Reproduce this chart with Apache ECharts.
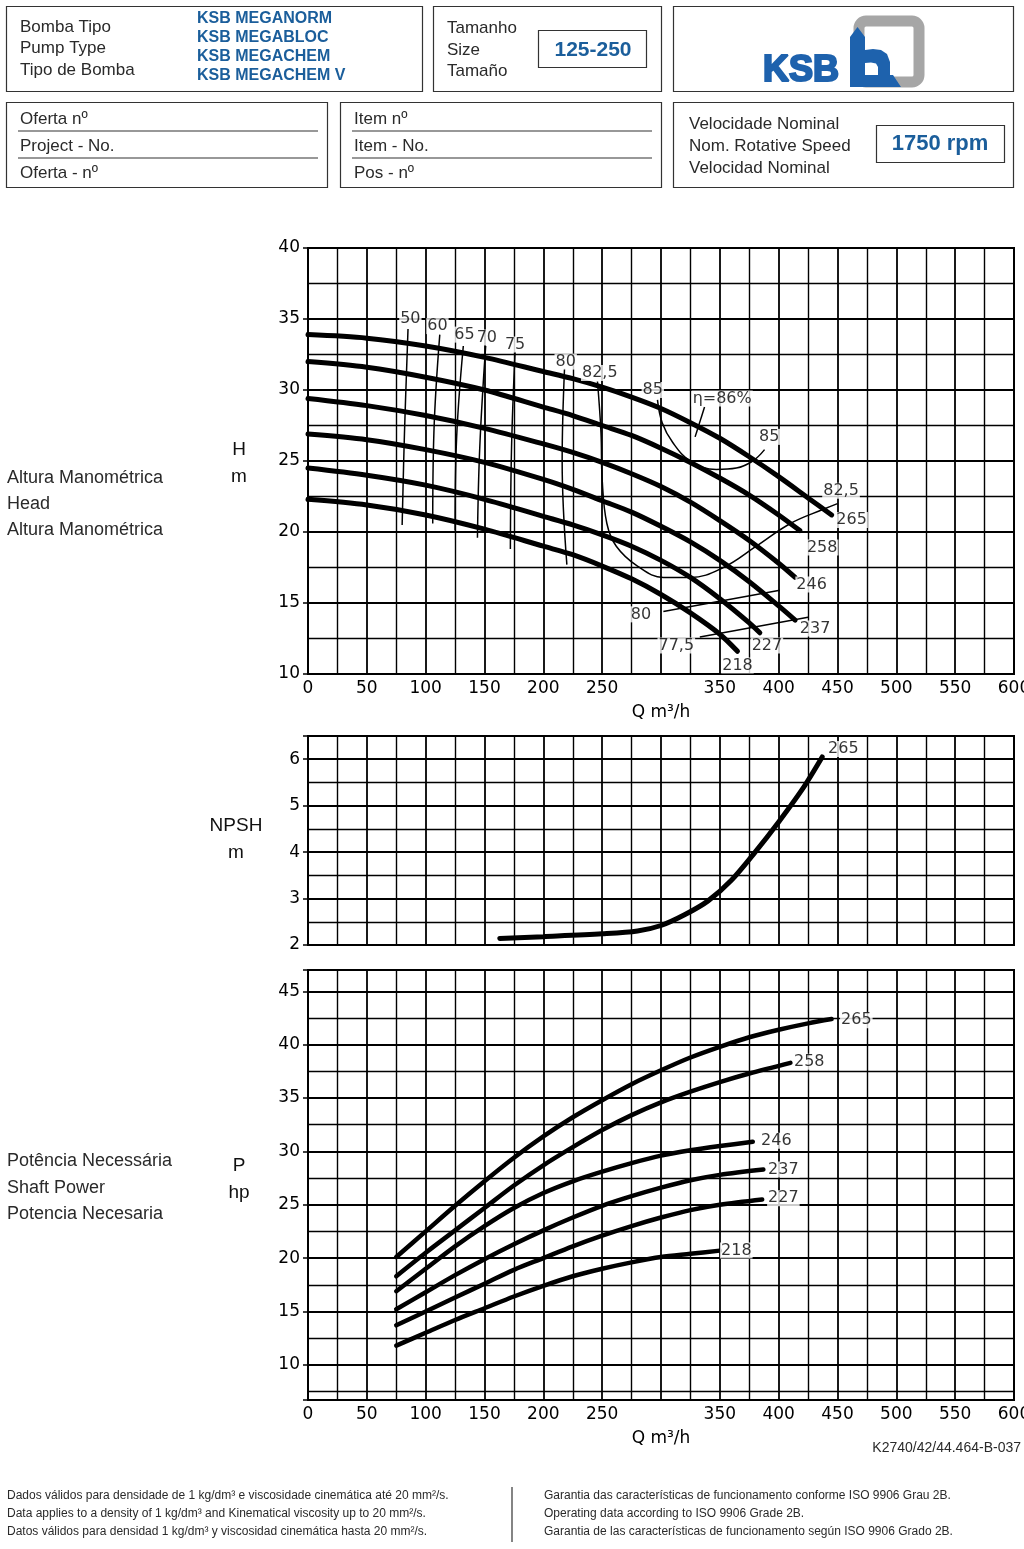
<!DOCTYPE html>
<html><head><meta charset="utf-8">
<script src="https://cdn.jsdelivr.net/npm/echarts@6/dist/echarts.min.js"></script>
<style>html,body{margin:0;padding:0;background:#fff}#c{width:1024px;height:1549px}</style>
</head><body><div id="c"></div>
<script>
// ---------- DATA ----------
const qLabelsHidden = [300];
const diameters = ['265', '258', '246', '237', '227', '218'];
// Head H [m] vs Q [m3/h]
const head265 = [[0,33.9],[50,33.65],[100,33.1],[150,32.3],[200,31.3],[225,30.8],[250,30.2],[275,29.5],[300,28.7],[325,27.7],[350,26.6],[375,25.3],[400,23.9],[425,22.4],[445,21.2]];
const head258 = [[0,32.0],[50,31.6],[100,30.9],[150,30.0],[200,28.8],[225,28.2],[250,27.5],[275,26.8],[300,25.9],[325,24.9],[350,23.8],[375,22.6],[400,21.2],[418,20.1]];
const head246 = [[0,29.4],[50,28.9],[100,28.2],[150,27.3],[200,26.2],[225,25.6],[250,24.9],[275,24.1],[300,23.2],[325,22.1],[350,20.8],[375,19.4],[400,17.8],[414,16.8]];
const head237 = [[0,26.9],[50,26.5],[100,25.8],[150,24.9],[200,23.7],[225,23.0],[250,22.2],[275,21.4],[300,20.4],[325,19.3],[350,18.0],[375,16.5],[400,14.8],[414,13.8]];
const head227 = [[0,24.5],[50,24.0],[100,23.3],[150,22.3],[200,21.1],[225,20.5],[250,19.8],[275,19.0],[300,18.0],[325,16.8],[350,15.3],[375,13.6],[384,12.9]];
const head218 = [[0,22.3],[50,21.9],[100,21.2],[150,20.2],[200,19.0],[225,18.4],[250,17.6],[275,16.7],[300,15.6],[325,14.3],[350,12.8],[365,11.6]];
const headCurves = [head265, head258, head246, head237, head227, head218];
const headLabelPos = [[462,20.85],[437,18.9],[428,16.3],[431,13.2],[390,12.0],[365,10.6]];
// Iso-efficiency lines
const eff50 = [[85,34.3],[82,27],[80,20.5]];
const eff60 = [[112,33.9],[107,27],[106,20.6]];
const eff65 = [[132,33.1],[126,26],[125,20.1]];
const eff70 = [[151,33.1],[146,26],[144,19.6]];
const eff75 = [[176,32.7],[173,26],[172,18.8]];
const eff80a = [[218,31.5],[216,25],[220,17.7]];
const eff825 = [[246,30.6],[249,27],[250,23.7],[254,20.6],[262,19.0],[280,17.6],[302,16.8],[325,16.8],[353,17.5],[381,19.0],[410,20.6],[438,21.6],[450,22.0]];
const eff85 = [[297,29.3],[301,27.7],[310,26.3],[325,25.0],[347,24.4],[364,24.5],[378,25.0],[388,25.8]];
const eff86 = [[337,28.8],[329,26.7]];
const eff80b = [[302,14.4],[401,15.9]];
const eff775 = [[333,12.6],[425,14.0]];
const effLines = [eff50, eff60, eff65, eff70, eff75, eff80a, eff825, eff85, eff86, eff80b, eff775];
const effLabels = [[87,35.0,'50'],[110,34.5,'60'],[133,33.9,'65'],[152,33.7,'70'],[176,33.2,'75'],[219,32.0,'80'],[248,31.2,'82,5'],[293,30.0,'85'],[352,29.4,'η=86%'],[392,26.7,'85'],[453,22.9,'82,5'],[283,14.2,'80'],[313,12.0,'77,5']];
// NPSH [m]
const npsh265 = [[163,2.14],[200,2.18],[250,2.24],[280,2.3],[300,2.42],[320,2.65],[340,2.95],[360,3.4],[380,4.0],[400,4.65],[420,5.35],[437,6.05]];
const npshLabel = [[455,6.22,'265']];
// Power P [hp]
const pow265 = [[75,20.1],[100,22.5],[125,24.9],[150,27.2],[175,29.4],[200,31.4],[225,33.2],[250,34.8],[275,36.3],[300,37.6],[325,38.8],[350,39.8],[375,40.7],[400,41.4],[425,42.0],[445,42.4]];
const pow258 = [[75,18.3],[100,20.5],[125,22.6],[150,24.7],[175,26.8],[200,28.7],[225,30.4],[250,32.0],[275,33.4],[300,34.6],[325,35.6],[350,36.5],[375,37.3],[410,38.3]];
const pow246 = [[75,16.9],[100,19.0],[125,21.1],[150,23.0],[175,24.7],[200,26.1],[225,27.2],[250,28.1],[275,28.9],[300,29.6],[325,30.1],[350,30.5],[378,30.9]];
const pow237 = [[75,15.2],[100,16.8],[125,18.4],[150,19.9],[175,21.3],[200,22.6],[225,23.8],[250,24.9],[275,25.8],[300,26.6],[325,27.3],[350,27.8],[387,28.3]];
const pow227 = [[75,13.7],[100,15.0],[125,16.3],[150,17.6],[175,18.9],[200,20.0],[225,21.1],[250,22.1],[275,23.0],[300,23.8],[325,24.5],[350,25.0],[386,25.5]];
const pow218 = [[75,11.8],[100,13.0],[125,14.2],[150,15.3],[175,16.4],[200,17.4],[225,18.3],[250,19.0],[275,19.6],[300,20.1],[325,20.4],[350,20.7]];
const powCurves = [pow265, pow258, pow246, pow237, pow227, pow218];
const powLabelPos = [[466,42.3],[426,38.4],[398,31.0],[404,28.3],[404,25.6],[364,20.7]];

// ---------- CHART ----------
const NUM = 'DejaVu Sans';
const TXT = '"Liberation Sans", Arial, sans-serif';
const BLUE = '#1b5e9b';
const chart = echarts.init(document.getElementById('c'), null, {renderer: 'canvas'});

function xAx(i) {
  return {
    type: 'value', gridIndex: i, min: 0, max: 600, interval: 50,
    splitLine: {show: true, lineStyle: {color: '#000', width: 1.8}},
    minorTick: {show: false, splitNumber: 2},
    minorSplitLine: {show: true, lineStyle: {color: '#000', width: 1.4}},
    axisLine: {show: true, lineStyle: {color: '#000', width: 2}},
    axisTick: {show: false},
    axisLabel: {show: i !== 1, color: '#000', fontFamily: NUM, fontSize: 17, margin: 6,
      formatter: v => qLabelsHidden.indexOf(v) >= 0 ? '' : String(v)},
    name: i !== 1 ? 'Q m³/h' : '', nameLocation: 'middle', nameGap: 30,
    nameTextStyle: {color: '#000', fontFamily: NUM, fontSize: 17}
  };
}
function yAx(i, extra) {
  return Object.assign({
    type: 'value', gridIndex: i,
    splitLine: {show: true, lineStyle: {color: '#000', width: 1.8}},
    minorTick: {show: false, splitNumber: 2},
    minorSplitLine: {show: true, lineStyle: {color: '#000', width: 1.4}},
    axisLine: {show: true, lineStyle: {color: '#000', width: 2}},
    axisTick: {show: true, length: 5, lineStyle: {color: '#000', width: 1.5}},
    axisLabel: {color: '#000', fontFamily: NUM, fontSize: 17, margin: 8}
  }, extra);
}
function labelSeries(xi, data, bg) {
  return {
    type: 'scatter', xAxisIndex: xi, yAxisIndex: xi, symbolSize: 1, z: 10,
    itemStyle: {color: 'rgba(0,0,0,0)'},
    data: data,
    label: {show: true, position: 'inside', formatter: p => p.data[2], color: '#000',
      fontFamily: NUM, fontSize: 16, backgroundColor: bg ? '#fff' : 'transparent', padding: [0, 1]},
    silent: true
  };
}
function curve(xi, d, w, z) {
  return {type: 'line', xAxisIndex: xi, yAxisIndex: xi, data: d, smooth: 0.3,
    symbol: 'none', z: z || 5, lineStyle: {color: '#000', width: w, cap: 'round'}, silent: true};
}
const series = [];
headCurves.forEach(d => series.push(curve(0, d, 5)));
effLines.forEach(d => series.push({type: 'line', xAxisIndex: 0, yAxisIndex: 0, data: d, smooth: 0.4, symbol: 'none', z: 4,
  lineStyle: {color: '#000', width: 1.5}, silent: true}));
series.push(labelSeries(0, effLabels, true));
series.push(labelSeries(0, headLabelPos.map((p, k) => [p[0], p[1], diameters[k]]), true));
series.push(curve(1, npsh265, 5));
series.push(labelSeries(1, npshLabel, true));
powCurves.forEach(d => series.push(curve(2, d, 4.5)));
series.push(labelSeries(2, powLabelPos.map((p, k) => [p[0], p[1], diameters[k]]), true));

// header / side graphics
function T(text, x, y, size, opt) {
  opt = opt || {};
  const st = {
    text: text, fill: opt.fill || '#2a2a2a',
    font: (opt.weight || 'normal') + ' ' + size + 'px ' + (opt.family || TXT),
    textAlign: opt.align || 'left', align: opt.align || 'left',
    textVerticalAlign: 'middle', verticalAlign: 'middle'};
  if (opt.stroke) { st.stroke = opt.stroke; st.lineWidth = opt.lw || 1.5; }
  return {type: 'text', x: x, y: y, silent: true, z: 100, style: st};
}
function R(x, y, w, h, lw) {
  return {type: 'rect', silent: true, z: 100, shape: {x: x, y: y, width: w, height: h},
    style: {fill: 'none', stroke: '#333', lineWidth: lw || 1.2}};
}
function L(x1, y1, x2, y2) {
  return {type: 'line', silent: true, z: 100, shape: {x1: x1, y1: y1, x2: x2, y2: y2},
    style: {stroke: '#333', lineWidth: 1.2}};
}
const LOGO = '#1e62ad';
const g = [
  R(6.5, 6.5, 416, 85), R(433.5, 6.5, 228, 85), R(673.5, 6.5, 340, 85),
  R(6.5, 102.5, 321, 85), R(340.5, 102.5, 321, 85), R(673.5, 102.5, 340, 85),
  T('Bomba Tipo', 20, 27, 17), T('Pump Type', 20, 48, 17), T('Tipo de Bomba', 20, 70, 17),
  T('KSB MEGANORM', 197, 19, 16, {fill: BLUE, weight: 'bold'}),
  T('KSB MEGABLOC', 197, 38, 16, {fill: BLUE, weight: 'bold'}),
  T('KSB MEGACHEM', 197, 57, 16, {fill: BLUE, weight: 'bold'}),
  T('KSB MEGACHEM V', 197, 76, 16, {fill: BLUE, weight: 'bold'}),
  T('Tamanho', 447, 28, 17), T('Size', 447, 50, 17), T('Tamaño', 447, 71, 17),
  R(538.5, 30.5, 108, 37),
  T('125-250', 593, 50, 21, {fill: BLUE, weight: 'bold', align: 'center'}),
  // KSB logo
  {type: 'rect', silent: true, z: 100, shape: {x: 859, y: 21, width: 60, height: 61, r: 7},
    style: {fill: 'none', stroke: '#a6a6a6', lineWidth: 11}},
  {type: 'polygon', silent: true, z: 101, shape: {points: [[850, 37], [857.5, 27], [865, 37], [865, 87], [850, 87]]}, style: {fill: LOGO}},
  {type: 'polygon', silent: true, z: 101, shape: {points: [[865, 50], [873, 49], [881, 50], [887, 54], [890, 62], [890, 76], [878, 76], [878, 67], [876, 63.5], [871, 62.5], [865, 63]]}, style: {fill: LOGO}},
  {type: 'polygon', silent: true, z: 101, shape: {points: [[850, 75], [893, 75], [901, 87], [850, 87]]}, style: {fill: LOGO}},
  T('KSB', 763, 71, 36, {fill: LOGO, weight: 'bold', family: '"Liberation Sans", Arial', stroke: LOGO, lw: 2.2}),
  // row 2
  T('Oferta nº', 20, 119, 17), L(18, 131, 318, 131), T('Project - No.', 20, 146, 17), L(18, 158, 318, 158), T('Oferta - nº', 20, 173, 17),
  T('Item nº', 354, 119, 17), L(352, 131, 652, 131), T('Item - No.', 354, 146, 17), L(352, 158, 652, 158), T('Pos - nº', 354, 173, 17),
  T('Velocidade Nominal', 689, 124, 17), T('Nom. Rotative Speed', 689, 146, 17), T('Velocidad Nominal', 689, 168, 17),
  R(876.5, 125.5, 128, 37),
  T('1750 rpm', 940, 144, 22, {fill: BLUE, weight: 'bold', align: 'center'}),
  // side labels
  T('Altura Manométrica', 7, 478, 18), T('Head', 7, 504, 18), T('Altura Manométrica', 7, 530, 18),
  T('H', 239, 450, 19, {align: 'center', fill: '#111'}), T('m', 239, 477, 19, {align: 'center', fill: '#111'}),
  T('NPSH', 236, 826, 19, {align: 'center', fill: '#111'}), T('m', 236, 853, 19, {align: 'center', fill: '#111'}),
  T('Potência Necessária', 7, 1161, 18), T('Shaft Power', 7, 1188, 18), T('Potencia Necesaria', 7, 1214, 18),
  T('P', 239, 1166, 19, {align: 'center', fill: '#111'}), T('hp', 239, 1193, 19, {align: 'center', fill: '#111'}),
  T('K2740/42/44.464-B-037', 1021, 1448, 14, {align: 'right'}),
  // footer
  T('Dados válidos para densidade de 1 kg/dm³ e viscosidade cinemática até 20 mm²/s.', 7, 1496, 12),
  T('Data applies to a density of 1 kg/dm³ and Kinematical viscosity up to 20 mm²/s.', 7, 1514, 12),
  T('Datos válidos para densidad 1 kg/dm³ y viscosidad cinemática hasta 20 mm²/s.', 7, 1532, 12),
  L(512, 1487, 512, 1542),
  T('Garantia das características de funcionamento conforme ISO 9906 Grau 2B.', 544, 1496, 12),
  T('Operating data according to ISO 9906 Grade 2B.', 544, 1514, 12),
  T('Garantia de las características de funcionamento según ISO 9906 Grado 2B.', 544, 1532, 12)
];

const gridBase = {left: 308, width: 706, show: true, borderColor: '#000', borderWidth: 2,
  backgroundColor: 'transparent', containLabel: false, outerBoundsMode: 'none'};
const option = {
  animation: false,
  backgroundColor: '#fff',
  grid: [
    Object.assign({top: 248, height: 426}, gridBase),
    Object.assign({top: 736, height: 209}, gridBase),
    Object.assign({top: 970, height: 430}, gridBase)
  ],
  xAxis: [xAx(0), xAx(1), xAx(2)],
  yAxis: [
    yAx(0, {min: 10, max: 40, interval: 5}),
    yAx(1, {min: 2, max: 6.5, interval: 1, axisLabel: {color: '#000', fontFamily: NUM, fontSize: 17, margin: 8,
      formatter: v => Number.isInteger(v) ? String(v) : ''}}),
    yAx(2, {min: 6.7, max: 47, minInterval: 5, maxInterval: 5, axisLabel: {color: '#000', fontFamily: NUM, fontSize: 17, margin: 8,
      formatter: v => (Math.abs(v % 5) < 1e-9) ? String(v) : ''}})
  ],
  series: series,
  graphic: g
};
chart.setOption(option);
</script>
</body></html>
